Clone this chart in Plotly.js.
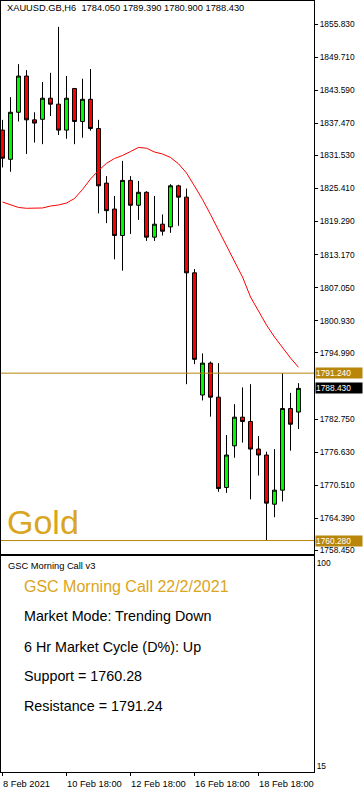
<!DOCTYPE html>
<html><head><meta charset="utf-8">
<script src="https://cdn.plot.ly/plotly-3.0.1.min.js"></script>
<style>html,body{margin:0;padding:0;background:#fff;}#chart{width:364px;height:794px;}</style>
</head><body><div id="chart"></div>
<script>
// ---- data ----
const symbolHeader = "XAUUSD.GB,H6  1784.050 1789.390 1780.900 1788.430";
const candleIndex = Array.from({length: 38}, (_, i) => i);
const openP  = [1836.2,1830.8,1839.5,1846.2,1838.1,1838.2,1842.1,1841.0,1836.2,1843.9,1837.8,1841.9,1836.5,1826.4,1821.6,1816.7,1826.9,1822.3,1824.7,1816.4,1818.8,1818.3,1825.9,1823.8,1809.8,1787.2,1793.1,1786.8,1770.1,1777.8,1783.1,1782.3,1777.2,1776.1,1767.0,1769.6,1784.7,1784.05];
const highP  = [1838.1,1842.3,1848.4,1847.3,1839.5,1845.1,1846.8,1855.3,1846.2,1844.0,1845.7,1847.5,1838.1,1827.7,1824.0,1830.5,1827.7,1826.8,1824.9,1824.0,1820.6,1826.2,1826.1,1825.4,1810.5,1794.9,1793.4,1793.1,1779.8,1785.5,1788.6,1789.2,1779.6,1776.7,1777.2,1791.24,1787.6,1789.39];
const lowP   = [1829.3,1828.5,1837.8,1831.8,1833.9,1833.6,1838.8,1835.3,1834.6,1833.6,1834.8,1836.1,1820.8,1819.0,1812.3,1810.2,1817.0,1819.6,1815.7,1815.7,1816.7,1817.2,1818.5,1789.2,1792.9,1786.2,1783.2,1769.3,1769.1,1775.6,1778.4,1767.9,1772.3,1760.28,1764.6,1767.5,1776.9,1780.9];
const closeP = [1831.0,1839.5,1846.2,1838.1,1837.5,1842.1,1841.0,1836.2,1842.1,1837.8,1841.9,1836.5,1825.9,1821.3,1816.7,1826.9,1822.3,1824.7,1816.4,1818.8,1817.5,1825.9,1823.8,1809.8,1793.8,1793.1,1786.8,1769.9,1776.1,1783.1,1782.3,1777.2,1776.1,1767.2,1769.6,1784.7,1781.8,1788.43];
const maLine = [1822.9,1822.35,1821.89,1821.74,1821.74,1821.8,1822.16,1822.35,1822.72,1823.55,1825.22,1827.16,1828.73,1830.06,1830.95,1831.51,1832.24,1833.0,1832.85,1832.15,1831.78,1831.14,1829.97,1828.27,1825.86,1823.37,1820.59,1817.72,1814.95,1811.99,1809.03,1805.33,1802.74,1800.15,1797.93,1795.9,1794.05,1792.33];
const levelValues = [1791.24, 1760.28];
const currentPrice = 1788.43;
const priceTicks = [1855.83,1849.71,1843.59,1837.47,1831.53,1825.41,1819.29,1813.17,1807.05,1800.93,1794.99,1782.75,1776.63,1770.51,1764.39,1758.45];
const timeTickIdx = [0, 8, 16, 24, 32];
const timeTickText = ["8 Feb 2021","10 Feb 18:00","12 Feb 18:00","16 Feb 18:00","18 Feb 18:00"];
const panelTicks = [100, 15];
const panelName = "GSC Morning Call v3";
const panelTitle = "GSC Morning Call 22/2/2021";
const panelLines = ["Market Mode: Trending Down","6 Hr Market Cycle (D%): Up","Support = 1760.28","Resistance = 1791.24"];
const chartLabel = "Gold";

// ---- geometry ----
const W = 364, H = 794;
const M = {l: 1, r: 50, t: 1, b: 22};
const plotH = H - M.t - M.b;
const plotW = W - M.l - M.r;
const py = p => (H - M.b - p) / plotH;
const px = p => (p - M.l) / plotW;
const FONT = "Liberation Sans, Arial, sans-serif";
const GOLD = "#DAA520", DGOLD = "#B8860B";

const x0 = -0.1875;
const xr = [x0, x0 + plotW / 8];

const traces = [
  {
    type: "candlestick", x: candleIndex, open: openP, high: highP, low: lowP, close: closeP,
    xaxis: "x", yaxis: "y", whiskerwidth: 0,
    increasing: {fillcolor: "#00FF00", line: {color: "#000000", width: 1}},
    decreasing: {fillcolor: "#FF0000", line: {color: "#000000", width: 1}},
    hoverinfo: "skip", showlegend: false
  },
  {
    type: "scatter", mode: "lines", x: candleIndex, y: maLine, xaxis: "x", yaxis: "y",
    line: {color: "#FF0000", width: 1}, hoverinfo: "skip", showlegend: false
  },
  {
    type: "scatter", mode: "lines", x: [0], y: [50], xaxis: "x2", yaxis: "y2",
    line: {color: "rgba(0,0,0,0)"}, hoverinfo: "skip", showlegend: false
  }
];

const annotations = [];
annotations.push({xref: "paper", yref: "paper", x: px(5), y: py(8), xanchor: "left", yanchor: "middle",
  text: symbolHeader, showarrow: false, font: {family: FONT, size: 9.3, color: "#000"}});
annotations.push({xref: "paper", yref: "paper", x: px(5), y: py(522), xanchor: "left", yanchor: "middle",
  text: chartLabel, showarrow: false, font: {family: FONT, size: 34, color: GOLD}});
levelValues.forEach(v => annotations.push({xref: "paper", yref: "y", x: 1, y: v, xanchor: "left", yanchor: "middle",
  xshift: 1, text: v.toFixed(3), showarrow: false, bgcolor: DGOLD, width: 46, height: 10, align: "left",
  borderpad: 0, font: {family: FONT, size: 8.4, color: "#FFFFFF"}}));
annotations.push({xref: "paper", yref: "y", x: 1, y: currentPrice, xanchor: "left", yanchor: "middle",
  xshift: 1, text: currentPrice.toFixed(3), showarrow: false, bgcolor: "#000000", width: 46, height: 10, align: "left",
  borderpad: 0, font: {family: FONT, size: 8.4, color: "#FFFFFF"}});
annotations.push({xref: "paper", yref: "paper", x: px(6), y: py(565.5), xanchor: "left", yanchor: "middle",
  text: panelName, showarrow: false, font: {family: FONT, size: 9.3, color: "#000"}});
annotations.push({xref: "paper", yref: "paper", x: px(21.5), y: py(586), xanchor: "left", yanchor: "middle",
  text: panelTitle, showarrow: false, font: {family: FONT, size: 16, color: GOLD}});
const lineY = [615.5, 646.5, 676, 706];
panelLines.forEach((t, k) => annotations.push({xref: "paper", yref: "paper", x: px(21.5), y: py(lineY[k]),
  xanchor: "left", yanchor: "middle", text: t, showarrow: false, font: {family: FONT, size: 14.3, color: "#000"}}));
timeTickIdx.forEach((v, k) => annotations.push({xref: "x2", yref: "paper", x: v, y: py(777), xanchor: "left",
  yanchor: "top", xshift: -2, text: timeTickText[k], showarrow: false, font: {family: FONT, size: 9.3, color: "#000"}}));

const shapes = levelValues.map(v => ({type: "line", xref: "paper", yref: "y", x0: 0, x1: 1, y0: v, y1: v,
  line: {color: DGOLD, width: 1}, layer: "above"}));

const axisCommon = {showgrid: false, zeroline: false, showline: true, linecolor: "#000", linewidth: 1, mirror: true, fixedrange: true};

// main y range from pixel mapping: 1855.83 @ y=24, 5.406 px per unit
const ppu = 5.406;
const yTop = 1855.83 + (24 - M.t) / ppu;
const yBot = 1855.83 - (554 - 24) / ppu;
// panel range: 100 @ 563, 15 @ 766
const pu = 85 / (766 - 563);
const pTop = 100 + (563 - 556) * pu;
const pBot = 15 - (H - M.b - 766) * pu;

const layout = {
  width: W, height: H, margin: M, paper_bgcolor: "#fff", plot_bgcolor: "#fff", showlegend: false,
  xaxis: Object.assign({}, axisCommon, {range: xr, domain: [0, 1], anchor: "y", showticklabels: false, ticks: "", rangeslider: {visible: false}}),
  yaxis: Object.assign({}, axisCommon, {range: [yBot, yTop], domain: [py(554), 1], anchor: "x", side: "right",
    tickvals: priceTicks, ticktext: priceTicks.map(v => v.toFixed(3)), ticks: "outside", ticklen: 3, tickcolor: "#000",
    tickfont: {family: FONT, size: 8.4, color: "#000"}}),
  xaxis2: Object.assign({}, axisCommon, {range: xr, domain: [0, 1], anchor: "y2", tickvals: timeTickIdx, ticks: "outside",
    ticklen: 3, tickcolor: "#000", showticklabels: false}),
  yaxis2: Object.assign({}, axisCommon, {range: [pBot, pTop], domain: [0, py(556)], anchor: "x2", side: "right",
    tickvals: panelTicks, ticktext: panelTicks.map(String), ticks: "", tickfont: {family: FONT, size: 8.4, color: "#000"}}),
  annotations: annotations, shapes: shapes
};

Plotly.newPlot("chart", traces, layout, {staticPlot: true, displayModeBar: false});
</script></body></html>
